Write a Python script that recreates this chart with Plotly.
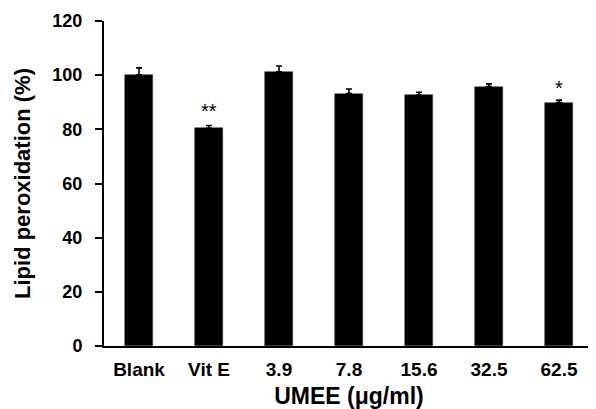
import plotly.graph_objects as go

categories = ["Blank", "Vit E", "3.9", "7.8", "15.6", "32.5", "62.5"]
values = [100.1, 80.4, 101.2, 93.2, 92.7, 95.8, 89.9]
errors = [2.6, 1.0, 2.2, 1.7, 1.0, 1.0, 0.9]
marks = ["", "**", "", "", "", "", "*"]
yticks = [0, 20, 40, 60, 80, 100, 120]

FONT = "Liberation Sans, Arial, sans-serif"

fig = go.Figure()
fig.add_trace(go.Bar(
    x=list(range(len(categories))), y=values,
    width=0.4,
    marker=dict(color="black", line=dict(color="#444444", width=0.6)),
    error_y=dict(type="data", array=errors, arrayminus=[0]*len(errors),
                 symmetric=False, color="black", thickness=1.6, width=3),
))

for i, (m, v, e) in enumerate(zip(marks, values, errors)):
    if m:
        fig.add_annotation(x=i, y=v + e, text=m, showarrow=False,
                           yanchor="bottom", yshift=2 if m == "**" else -1,
                           font=dict(family=FONT, size=20, color="black"))

fig.update_layout(
    width=588, height=401,
    margin=dict(l=96, r=2, t=13, b=63),
    plot_bgcolor="white", paper_bgcolor="white",
    showlegend=False,
    bargap=0,
    font=dict(family=FONT, color="black"),
)
fig.update_xaxes(
    range=[-0.5, 6.5],
    tickmode="array", tickvals=list(range(len(categories))), ticktext=[f"<b>{c}</b>" for c in categories],
    ticks="", showline=True, linecolor="black", linewidth=2,
    tickfont=dict(size=19, color="black"),
    ticklabelstandoff=5,
    title=dict(text="<b>UMEE (μg/ml)</b>", font=dict(size=23, color="black"), standoff=11),
    showgrid=False, zeroline=False,
)
fig.update_yaxes(
    range=[0, 120],
    tickmode="array", tickvals=yticks, ticktext=[f"<b>{t}</b>" for t in yticks],
    ticks="outside", ticklen=7, tickwidth=2, tickcolor="black",
    showline=True, linecolor="black", linewidth=2,
    tickfont=dict(size=18, color="black"),
    ticklabelstandoff=9,
    title=dict(text="<b>Lipid peroxidation (%)</b>", font=dict(size=22, color="black"), standoff=16),
    showgrid=False, zeroline=False,
)

fig.write_html("out.html")
